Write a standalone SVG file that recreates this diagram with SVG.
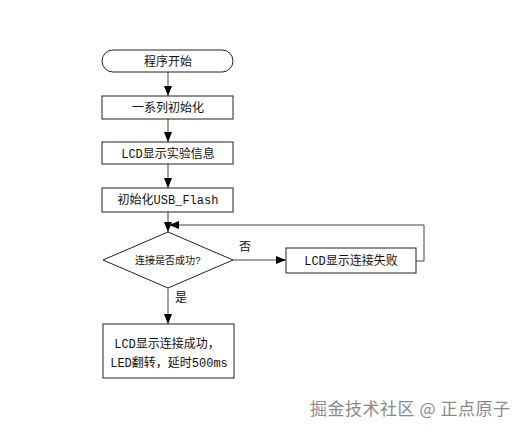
<svg xmlns="http://www.w3.org/2000/svg" width="525" height="432" viewBox="0 0 525 432">
<defs>
<style>
.shape{fill:#fff;stroke:#222;stroke-width:1}
.t{font-family:"Liberation Mono","Noto Sans CJK SC",monospace;font-size:12px;fill:#111;text-anchor:middle}
.conn{fill:none;stroke:#444;stroke-width:1}
.wm{font-family:"Noto Sans CJK SC","Noto Sans",sans-serif;font-size:17px;fill:#8a8a8a}
</style>
<marker id="ah" markerUnits="userSpaceOnUse" markerWidth="10" markerHeight="10" viewBox="0 0 10 10" refX="10" refY="5" orient="auto">
<path d="M0,1 L10,5 L0,9 Z" fill="#000"/>
</marker>
</defs>
<rect width="525" height="432" fill="#fff"/>
<g id="connectors">
<line class="conn" x1="168" y1="72" x2="168" y2="96" marker-end="url(#ah)"/>
<line class="conn" x1="168" y1="119" x2="168" y2="142" marker-end="url(#ah)"/>
<line class="conn" x1="168" y1="164" x2="168" y2="188" marker-end="url(#ah)"/>
<line class="conn" x1="168" y1="212" x2="168" y2="232" marker-end="url(#ah)"/>
<line class="conn" x1="233" y1="260" x2="286" y2="260" marker-end="url(#ah)"/>
<polyline class="conn" points="416,261 424,261 424,225 169,225" marker-end="url(#ah)"/>
<line class="conn" x1="168" y1="288" x2="168" y2="324" marker-end="url(#ah)"/>
<text class="t" x="245" y="251">否</text>
<text class="t" x="181" y="302">是</text>
</g>
<g id="start">
<rect class="shape" x="102" y="50" width="131" height="22" rx="11"/>
<text class="t" x="168" y="66">程序开始</text>
</g>
<g id="init">
<rect class="shape" x="102" y="96" width="131" height="23"/>
<text class="t" x="168" y="112">一系列初始化</text>
</g>
<g id="lcdinfo">
<rect class="shape" x="102" y="142" width="131" height="22"/>
<text class="t" x="168" y="158">LCD显示实验信息</text>
</g>
<g id="usbinit">
<rect class="shape" x="102" y="188" width="131" height="24"/>
<text class="t" x="168" y="204">初始化USB_Flash</text>
</g>
<g id="decision">
<polygon class="shape" points="168,232 233,260 168,288 103,260"/>
<text class="t" x="168" y="264" style="font-size:10px">连接是否成功?</text>
</g>
<g id="fail">
<rect class="shape" x="286" y="248" width="130" height="25"/>
<text class="t" x="351" y="265">LCD显示连接失败</text>
</g>
<g id="success">
<rect class="shape" x="103" y="324" width="131" height="54"/>
<text class="t" x="167" y="348">LCD显示连接成功，</text>
<text class="t" x="169" y="367">LED翻转，延时500ms</text>
</g>
<text class="wm" x="310" y="415" textLength="200" lengthAdjust="spacing">掘金技术社区 @ 正点原子</text>
</svg>
